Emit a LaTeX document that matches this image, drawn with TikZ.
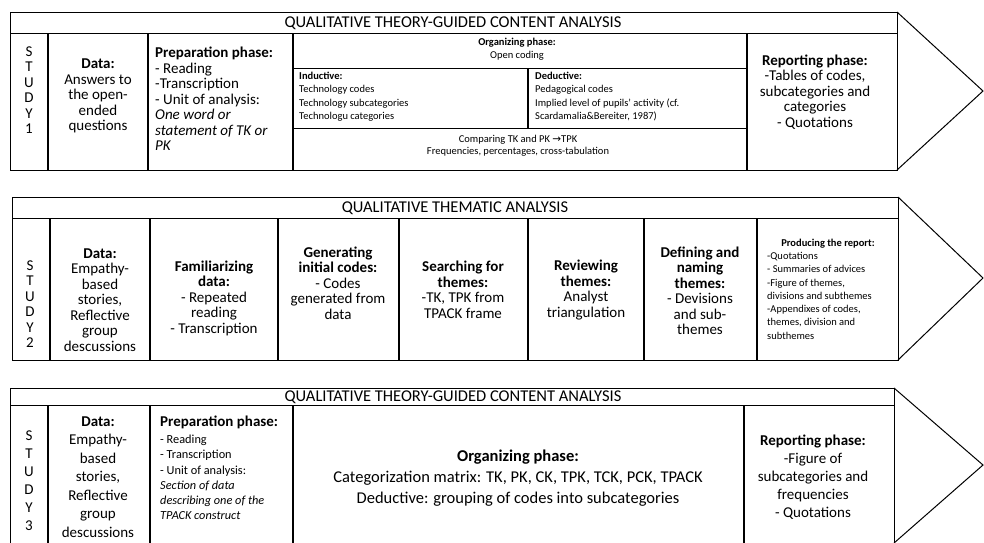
\documentclass[tikz,border=0pt]{standalone}
\usepackage{fontspec}
\setmainfont{Carlito}
\newfontfamily\arrowfont{DejaVu Sans}
\usepackage{tikz}

\tikzset{
    box/.style={line width=1pt},
    sep/.style={line width=1.5pt},
    title/.style={font=\fontsize{16.5}{17}\selectfont, inner sep=0pt},
    big/.style={font=\fontsize{15}{15.5}\selectfont, align=center, inner sep=0pt},
    small/.style={font=\fontsize{10.5}{13.3}\selectfont, align=left, inner sep=0pt},
}

\begin{document}
\begin{tikzpicture}[x=1pt, y=-1pt]
        \useasboundingbox (0,0) rectangle (984,542);
        \clip (0,0) rectangle (984,542);

        % study 1
        \draw[box] (10,12) rectangle (897,170);
        \draw[box] (897,12) -- (983,91) -- (897,170);
        \draw[box] (10,33) -- (897,33);
        \foreach \x in {48,148,293,747}
            \draw[sep] (\x,33) -- (\x,170);
        \draw[box] (293,68) -- (747,68);
        \draw[box] (293,128) -- (747,128);
        \draw[sep] (528,68) -- (528,128);

        \node[title] (t1) at (453,23) {QUALITATIVE THEORY-GUIDED CONTENT ANALYSIS};
        \node[big] (s1) at (29,90) {S\\T\\U\\D\\Y\\1};
        \node[big] (d1) at (98,96) {\textbf{Data:}\\Answers to\\the open-\\ended\\questions};
        \node[big, align=left, anchor=north west] (p1) at (155,47)
            {\textbf{Preparation phase:}\\- Reading\\-Transcription\\- Unit of analysis:\\\textit{One word or}\\\textit{statement of TK or}\\\textit{PK}};
        \node[small, font=\fontsize{10.5}{13}\selectfont, align=center] (o1) at (517,49) {\textbf{Organizing phase:}\\Open coding};
        \node[small, anchor=north west] (i1) at (299,72)
            {\textbf{Inductive:}\\Technology codes\\Technology subcategories\\Technologu categories};
        \node[small, anchor=north west] (k1) at (535,72)
            {\textbf{Deductive:}\\Pedagogical codes\\Implied level of pupils’ activity (cf.\\Scardamalia\&Bereiter, 1987)};
        \node[small, font=\fontsize{10.5}{12.5}\selectfont, align=center, anchor=north] (c1) at (518,135)
            {Comparing TK and PK {\arrowfont →}TPK\\Frequencies, percentages, cross-tabulation};
        \node[big] (r1) at (815,92) {\textbf{Reporting phase:}\\-Tables of codes,\\subcategories and\\categories\\- Quotations};

        % study 2
        \draw[box] (12,197) rectangle (898,360);
        \draw[box] (898,197) -- (983,278) -- (898,360);
        \draw[box] (12,218) -- (898,218);
        \foreach \x in {50,150,278,399,528,644,757}
            \draw[sep] (\x,218) -- (\x,360);

        \node[title] (t2) at (455,208) {QUALITATIVE THEMATIC ANALYSIS};
        \node[big] (s2) at (30,304) {S\\T\\U\\D\\Y\\2};
        \node[big] (d2) at (100,300) {\textbf{Data:}\\Empathy-\\based\\stories,\\Reflective\\group\\descussions};
        \node[big] (f2) at (214,298) {\textbf{Familiarizing}\\\textbf{data:}\\- Repeated\\reading\\- Transcription};
        \node[big] (g2) at (338,283) {\textbf{Generating}\\\textbf{initial codes:}\\- Codes\\generated from\\data};
        \node[big] (h2) at (463,290) {\textbf{Searching for}\\\textbf{themes:}\\-TK, TPK from\\TPACK frame};
        \node[big] (v2) at (586,290) {\textbf{Reviewing}\\\textbf{themes:}\\Analyst\\triangulation};
        \node[big] (n2) at (700,291) {\textbf{Defining and}\\\textbf{naming}\\\textbf{themes:}\\- Devisions\\and sub-\\themes};
        \node[small] (q2) at (828,244) {\textbf{Producing the report:}};
        \node[small, anchor=north west] (l2) at (767,252)
            {-Quotations\\- Summaries of advices\\-Figure of themes,\\divisions and subthemes\\-Appendixes of codes,\\themes, division and\\subthemes};

        % study 3
        \draw[box] (10,388) rectangle (894,560);
        \draw[box] (894,388) -- (983,465) -- (894,543);
        \draw[box] (10,405) -- (894,405);
        \foreach \x in {48,150,293,744}
            \draw[sep] (\x,405) -- (\x,560);

        \node[title] (t3) at (453,397) {QUALITATIVE THEORY-GUIDED CONTENT ANALYSIS};
        \node[big, font=\fontsize{15}{18}\selectfont] (s3) at (29,481) {S\\T\\U\\D\\Y\\3};
        \node[big, font=\fontsize{15}{18.5}\selectfont] (d3) at (98,477) {\textbf{Data:}\\Empathy-\\based\\stories,\\Reflective\\group\\descussions};
        \node[big, anchor=north west] (p3) at (160,416) {\textbf{Preparation phase:}};
        \node[small, font=\fontsize{12.3}{15.2}\selectfont, anchor=north west] (u3) at (160,435)
            {- Reading\\- Transcription\\- Unit of analysis:\\\textit{Section of data}\\\textit{describing one of the}\\\textit{TPACK construct}};
        \node[big, font=\fontsize{16.5}{21}\selectfont] (o3) at (518,478)
            {\textbf{Organizing phase:}\\Categorization matrix: TK, PK, CK, TPK, TCK, PCK, TPACK\\Deductive: grouping of codes into subcategories};
        \node[big, font=\fontsize{15}{18}\selectfont] (r3) at (813,477) {\textbf{Reporting phase:}\\-Figure of\\subcategories and\\frequencies\\- Quotations};
    \end{tikzpicture}
\end{document}
